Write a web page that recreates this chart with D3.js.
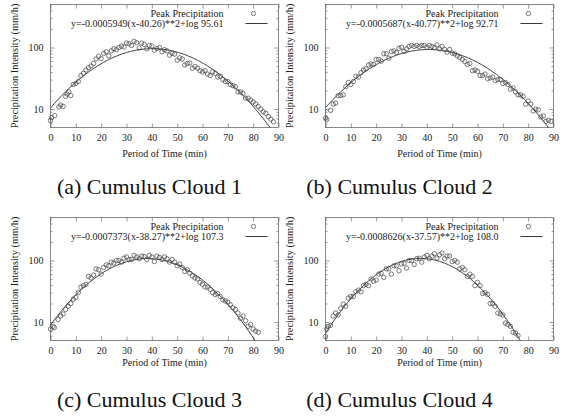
<!DOCTYPE html>
<html>
  <head>
    <meta charset="utf-8" />
    <title>Cumulus clouds</title>
    <script src="https://cdnjs.cloudflare.com/ajax/libs/d3/7.6.1/d3.min.js"></script>
    <style>
      body { margin: 0; background: #fff; }
      svg { display: block; }
      svg text { font-family: "Liberation Serif", "Times New Roman", serif; }
      .tick text { font-size: 10px; fill: #222; }
    </style>
  </head>
  <body>
    <svg width="565" height="417"></svg>
  </body>

  <script>
    // peak precipitation samples: [minute, mm/h]
    let cloud1 = [[0,6.5],[0.4,7.2],[1.7,7.8],[3.3,10.8],[4,11.6],[5,11],[6,16],[6.6,17.5],[7.2,19],[8,16.5],
      [9,25],[10,26],[11,28],[12,35],[13,38],[14,43],[15,47],[16,50],[17,55],[18,65],[19,72],[20,66],
      [21,80],[22,85],[23,73],[24,88],[25,95],[26,92],[27,100],[28,105],[29,102],[30,118],[31,115],[32,108],
      [33,126],[34,120],[35,98],[36,118],[37,112],[38,95],[39,108],[40,106],[41,90],[42,96],[43,100],[44,85],
      [45,92],[46,88],[47,75],[48,80],[49,78],[50,62],[51,68],[52,65],[53,52],[54,55],[55,56],[56,46],[57,49],
      [58,46],[59,42],[60,40],[61,42],[62,37],[63,35],[64,40],[65,38],[66,33],[67,34],[68,30],[69,28],[70,28],
      [71,25],[72,24],[73,23],[74,19],[75,19],[76,18],[77,15],[78,15],[79,14],[80,13],[81,12],[82,11],[83,10],
      [84,9],[85,8.5],[86,7.5],[87,6.8],[88,6.2]];
    let cloud2 = [[0,7.1],[0.5,6.8],[2,9.5],[3,12],[4,12.5],[5,16.5],[6,16.5],[7,17],[8,23],[9,27],[10,25],
      [11,28],[12,34],[13,33],[14,39],[15,43],[16,45],[17,52],[18,54],[19,53],[20,64],[21,64],[22,60],[23,79],
      [24,79],[25,67],[26,86],[27,88],[28,83],[29,97],[30,101],[31,86],[32,95],[33,104],[34,108],[35,104],
      [36,108],[37,104],[38,108],[39,108],[40,101],[41,108],[42,104],[43,100],[44,110],[45,95],[46,104],[47,93],
      [48,84],[49,93],[50,81],[51,79],[52,73],[53,69],[54,64],[55,59],[56,53],[57,55],[58,42],[59,43],[60,41],
      [61,35],[62,35],[63,37],[64,31],[65,32],[66,33],[67,29],[68,30],[69,30],[70,26],[71,27],[72,25],[73,21],
      [74,22],[75,19],[76,17],[77,17],[78,16],[79,12],[80,13.5],[81,12],[82,9.3],[83,10],[84,9.7],[85,7.4],
      [86,7.7],[87,6.3],[88,6.6],[89,6.3]];
    let cloud3 = [[0,7.7],[1,8.5],[1.5,8.1],[3,11],[4,12.5],[5,13.5],[6,16],[7,18],[8,20],[9,23.5],[10,25],
      [11,30],[12,37],[13,39],[14,41],[15,55],[16,52],[17,58],[18,73],[19,71],[20,60],[21,77],[22,85],[23,82],
      [24,94],[25,91],[26,100],[27,100],[28,94],[29,109],[30,114],[31,103],[32,104],[33,121],[34,114],[35,107],
      [36,118],[37,116],[38,104],[39,121],[40,114],[41,96],[42,118],[43,112],[44,104],[45,114],[46,107],[47,94],
      [48,104],[49,94],[50,82],[51,88],[52,77],[53,66],[54,71],[55,62],[56,56],[57,52],[58,50],[59,44],[60,41],
      [61,37],[62,37],[63,34],[64,30],[65,28],[66,29],[67,26],[68,23],[69,22],[70,21],[71,19],[72,17],[73,16],
      [74,14],[75,11.5],[76,12.5],[77,10.5],[78,8.5],[79,9.1],[80,7.7],[81,7.1],[82,6.8]];
    let cloud4 = [[0,5.8],[0.5,7.7],[1,8.5],[2,8.8],[3,12.5],[4,14],[5,13],[6,16.7],[7,19.5],[8,18],[9,24.5],
      [10,26],[11,26],[12,31],[13,33],[14,31],[15,39],[16,41],[17,39],[18,50],[19,46],[20,48],[21,60],[22,62],
      [23,53],[24,73],[25,73],[26,60],[27,82],[28,82],[29,68],[30,88],[31,90],[32,75],[33,100],[34,100],[35,86],
      [36,107],[37,109],[38,94],[39,114],[40,121],[41,107],[42,118],[43,129],[44,109],[45,124],[46,132],[47,107],
      [48,118],[49,118],[50,96],[51,100],[52,94],[53,73],[54,77],[55,71],[56,55],[57,60],[58,55],[59,39],[60,44],
      [61,39],[62,29],[63,30],[64,28],[65,20],[66,20],[67,18],[68,14],[69,13.5],[70,13],[71,9.6],[72,9.1],
      [73,8.5],[74,6.8],[75,6.6],[76,6.0]];

    // fitted curves: log y = -a (x - c)^2 + log p
    let fitA = [0.0005949, 0.0005687, 0.0007373, 0.0008626];
    let fitC = [40.26, 40.77, 38.27, 37.57];
    let fitP = ["95.61", "92.71", "107.3", "108.0"];
    let captions = ["(a) Cumulus Cloud 1", "(b) Cumulus Cloud 2", "(c) Cumulus Cloud 3", "(d) Cumulus Cloud 4"];
    let xTicks = [0, 10, 20, 30, 40, 50, 60, 70, 80, 90];
    let yTicks = [10, 100];
    let yMinor = [6, 7, 8, 9, 20, 30, 40, 50, 60, 70, 80, 90, 200, 300, 400];

    let clouds = [cloud1, cloud2, cloud3, cloud4];
    let lefts = [50.5, 325.5, 50.5, 325.5];
    let tops = [4.5, 4.5, 217.5, 217.5];
    let pw = 228, ph = 123;
    let captionY = [194, 194, 407, 407];
    let titleGap = [29, 29, 25, 25];

    let xScale = d3.scaleLinear().domain([0, 90]).range([0, pw]);
    let yScale = d3.scaleLog().domain([5, 500]).range([ph, 0]);

    let svg = d3.select("svg");
    let ink = "#222";

    clouds.forEach((data, i) => {
      let g = svg.append("g").attr("transform", `translate(${lefts[i]},${tops[i]})`);

      g.append("clipPath").attr("id", "clip" + i)
        .append("rect").attr("width", pw).attr("height", ph);

      // axes (ticks inward, mirrored)
      let axes = g.append("g").attr("class", "axes");
      axes.append("g").attr("transform", `translate(0,${ph})`)
        .call(d3.axisBottom(xScale).tickValues(xTicks).tickSize(-4).tickPadding(6));
      axes.append("g").call(d3.axisTop(xScale).tickValues(xTicks).tickSize(-4).tickFormat(""));
      axes.append("g").call(d3.axisLeft(yScale).tickValues(yTicks).tickSize(-4).tickPadding(7).tickFormat(d3.format("d")));
      axes.append("g").call(d3.axisLeft(yScale).tickValues(yMinor).tickSize(-2).tickFormat(""));
      axes.append("g").attr("transform", `translate(${pw},0)`)
        .call(d3.axisRight(yScale).tickValues(yTicks).tickSize(-4).tickFormat(""));
      axes.append("g").attr("transform", `translate(${pw},0)`)
        .call(d3.axisRight(yScale).tickValues(yMinor).tickSize(-2).tickFormat(""));
      axes.selectAll("g").attr("font-family", null).attr("font-size", null);
      axes.selectAll(".domain").remove();
      axes.selectAll(".tick line").attr("stroke", "#555").attr("stroke-width", 0.6);

      g.append("rect").attr("width", pw).attr("height", ph)
        .attr("fill", "none").attr("stroke", "#555").attr("stroke-width", 0.7);

      // fitted curve
      let xs = d3.range(0, 90.01, 0.5);
      let line = d3.line()
        .x((d) => xScale(d))
        .y((d) => yScale(+fitP[i] * Math.pow(10, -fitA[i] * (d - fitC[i]) ** 2)));
      g.append("path").attr("clip-path", `url(#clip${i})`)
        .attr("d", line(xs)).attr("fill", "none").attr("stroke", ink).attr("stroke-width", 0.9);

      // points
      g.selectAll("circle.pt").data(data).enter().append("circle")
        .attr("class", "pt")
        .attr("cx", (d) => xScale(d[0])).attr("cy", (d) => yScale(d[1]))
        .attr("r", 2.2).attr("fill", "none").attr("stroke", "#444").attr("stroke-width", 0.7);

      // legend
      let leg = g.append("g").attr("font-size", 10).attr("fill", ink);
      leg.append("text").attr("x", pw - 55).attr("y", 12.5).attr("text-anchor", "end")
        .text("Peak Precipitation");
      leg.append("circle").attr("cx", pw - 25).attr("cy", 9).attr("r", 2.2)
        .attr("fill", "none").attr("stroke", "#444").attr("stroke-width", 0.7);
      leg.append("text").attr("x", pw - 55).attr("y", 22.5).attr("text-anchor", "end")
        .text(`y=-${fitA[i]}(x-${fitC[i]})**2+log ${fitP[i]}`);
      leg.append("line").attr("x1", pw - 33).attr("x2", pw - 11).attr("y1", 19).attr("y2", 19)
        .attr("stroke", ink).attr("stroke-width", 0.9);

      // axis titles
      g.append("text").attr("x", pw / 2).attr("y", ph + titleGap[i])
        .attr("text-anchor", "middle").attr("font-size", 10).attr("fill", ink)
        .text("Period of Time (min)");
      g.append("text").attr("transform", `translate(-33,${ph / 2}) rotate(-90)`)
        .attr("text-anchor", "middle").attr("font-size", 10.3).attr("fill", ink)
        .text("Precipitation Intensity (mm/h)");

      // caption
      svg.append("text").attr("x", lefts[i] + (i % 2 ? 74 : 99)).attr("y", captionY[i])
        .attr("text-anchor", "middle").attr("font-size", 22).attr("fill", "#111")
        .text(captions[i]);
    });
  </script>
</html>
